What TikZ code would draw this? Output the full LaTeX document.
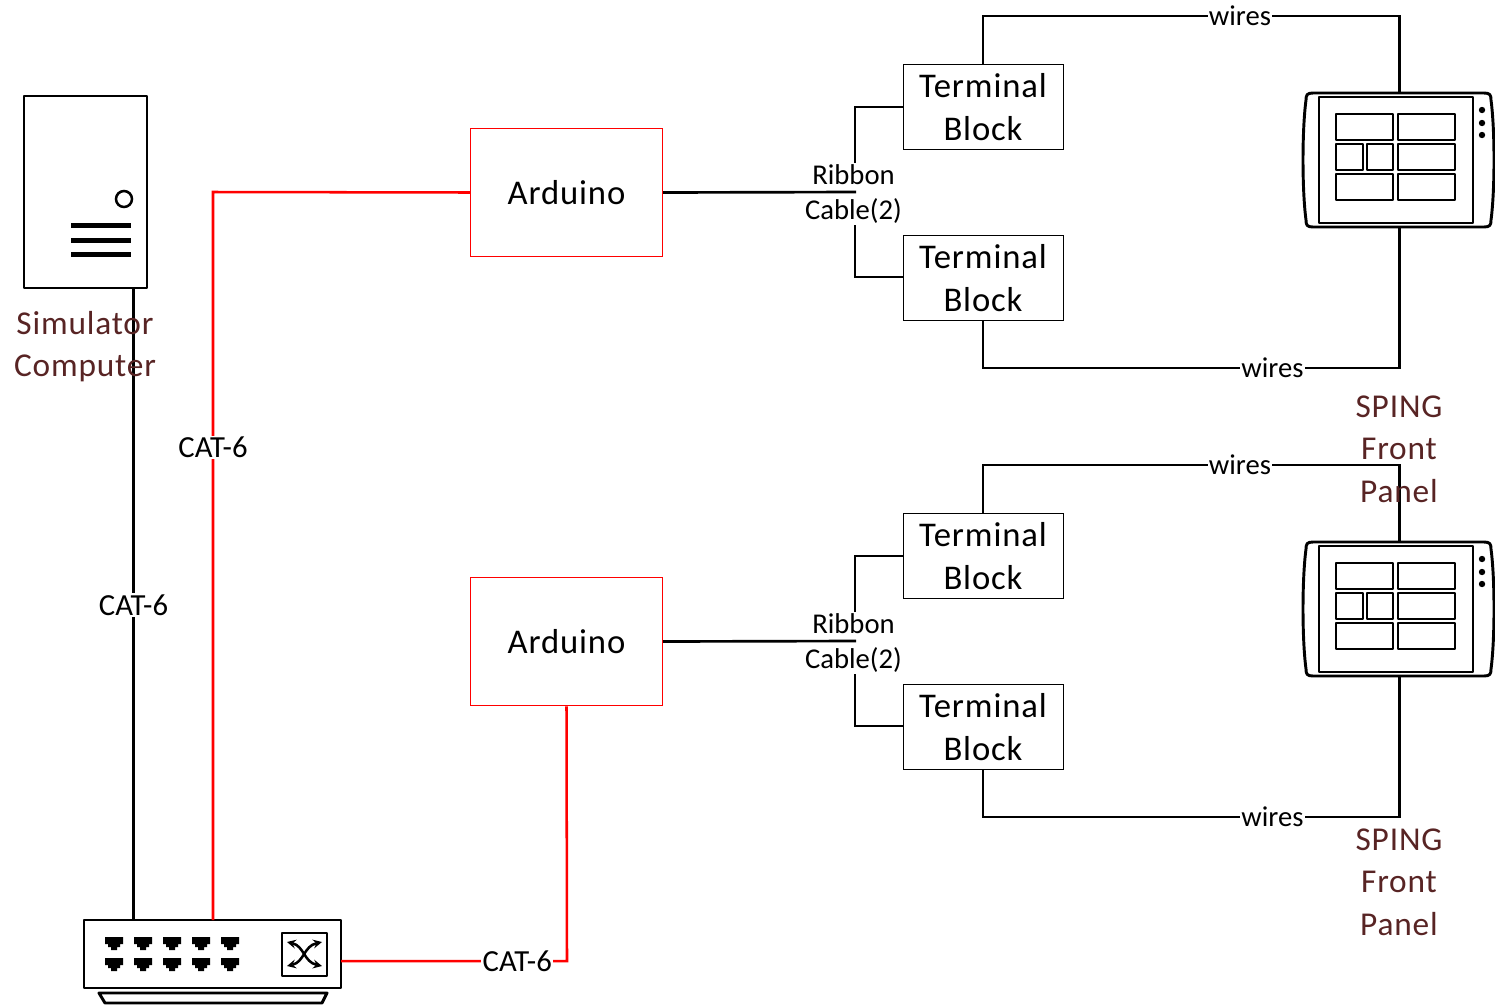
\documentclass[tikz,border=0pt]{standalone}
\usepackage{fontspec}
\setmainfont{Carlito}
\newfontfamily\spacedfont[LetterSpace=2.5]{Carlito}
\usepackage{xcolor}
\definecolor{labelbrown}{HTML}{582424}
\tikzset{
  ardbox/.style={draw=red,line width=0.75pt,fill=white,minimum width=144pt,minimum height=96.5pt,inner sep=0pt,font=\spacedfont\fontsize{26}{32}\selectfont},
  tbbox/.style={draw=black,line width=0.6pt,fill=white,minimum width=120pt,minimum height=64pt,inner sep=0pt,align=center,font=\spacedfont\fontsize{26}{32}\selectfont},
  wire/.style={line width=2pt,line join=miter},
  redwire/.style={line width=1.9pt,red},
  cablelabel/.style={fill=white,inner sep=1pt,align=center,text=black,font=\fontsize{21.5}{26}\selectfont},
  catlabel/.style={cablelabel,font=\fontsize{23}{26}\selectfont},
  devlabel/.style={text=labelbrown,align=center,inner sep=0pt,font=\spacedfont\fontsize{25}{32}\selectfont},
  devline/.style={line width=2.2pt,line join=round},
}
\begin{document}
\begin{tikzpicture}[x=0.75pt,y=-0.75pt]
\useasboundingbox (0,0) rectangle (1495,1004);
% simulator computer
\node[draw,devline,minimum width=92.25pt,minimum height=144pt,inner sep=0pt] (sim) at (85.5,192) {};
\draw[line width=1.9pt] (124,199) circle (8);
\fill (71,222.5) rectangle (131,227.5);
\fill (71,237.5) rectangle (131,242.5);
\fill (71,251.5) rectangle (131,256.5);
% switch
\node[draw,devline,minimum width=192.75pt,minimum height=51pt,inner sep=0pt] (switch) at (212.5,954) {};
\foreach \px in {105,134,163,192,221} {
  \foreach \py in {937,958} {
    \fill (\px,\py) -- ++(18,0) -- ++(0,7) -- ++(-3,0) -- ++(0,3) -- ++(-3,0) -- ++(0,3) -- ++(-6,0) -- ++(0,-3) -- ++(-3,0) -- ++(0,-3) -- ++(-3,0) -- cycle;
  }
}
\draw[devline] (282,933) rectangle (327,976);
\draw[line width=1.9pt,<->,>=stealth] (287,942) .. controls (304,946) and (304,962) .. (322,966);
\draw[line width=1.9pt,<->,>=stealth] (287,966) .. controls (304,962) and (304,946) .. (322,942);
\draw[devline] (105,1003) -- (99,993) -- (327,993) -- (322,1003) -- cycle;
% coordinates for the cables
\coordinate (simout) at (133.5,288);
\coordinate (swblack) at (133.5,920);
\coordinate (swred) at (213,920);
\coordinate (sweast) at (341,961);
\node[ardbox] (ardA) at (566.5,192.5) {Arduino};
\node[ardbox] (ardB) at (566.5,641.5) {Arduino};
\coordinate (ardBturn) at (567,961);
\coordinate (ardAturn) at (213,192);
\draw[wire] (simout) -- node[catlabel,pos=0.5015] (catA) {CAT-6} (swblack);
\draw[redwire] (swred) -- node[catlabel,pos=0.649] (catB) {CAT-6} (ardAturn) -- (ardA.west);
\draw[redwire] (sweast) -- node[catlabel,pos=0.78] (catC) {CAT-6} (ardBturn) -- (ardB.south);
% the two front panels, 449 apart
\foreach \n/\dy in {A/0,B/449} {
  \begin{scope}[yshift=-\dy*0.75pt]
  \node[tbbox] (tb\n1) at (983,107) {Terminal\\Block};
  \node[tbbox] (tb\n2) at (983,278) {Terminal\\Block};
  \coordinate (panel\n top) at (1399.5,93);
  \coordinate (panel\n bot) at (1399.5,227);
  \coordinate (rib\n) at (856,192);
  \coordinate (up\n) at (983,16);
  \coordinate (upr\n) at (1399.5,16);
  \coordinate (low\n) at (983,368);
  \coordinate (lowr\n) at (1399.5,368);
  \coordinate (ribtop\n) at (855,107);
  \coordinate (ribbot\n) at (855,277);
  \draw[wire] (tb\n1.west |- ribtop\n) -- (ribtop\n) -- (ribbot\n) -- (tb\n2.west |- ribbot\n);
  \draw[wire] (tb\n1.north) -- (up\n) -- node[cablelabel,pos=0.617] (wires\n1) {wires} (upr\n) -- (panel\n top);
  \draw[wire] (tb\n2.south) -- (low\n) -- node[cablelabel,pos=0.695] (wires\n2) {wires} (lowr\n) -- (panel\n bot);
  \node[cablelabel,inner xsep=4pt,inner ysep=1pt] (ribbon\n) at (853.5,194) {Ribbon\\Cable(2)};
  \draw[wire] (ard\n.east) -- (rib\n);
  % panel
  \draw[devline,fill=white] (1313,93) -- (1484,93) .. controls (1490,93) and (1491,95) .. (1491,100) .. controls (1495,130) and (1495,190) .. (1491,220) .. controls (1491,225) and (1490,227) .. (1484,227) -- (1313,227) .. controls (1307,227) and (1306,225) .. (1306,220) .. controls (1302,190) and (1302,130) .. (1306,100) .. controls (1306,95) and (1307,93) .. (1313,93) -- cycle;
  \draw[devline] (1319,97) rectangle (1473,223);
  \draw[devline] (1336,114) rectangle (1393,140);
  \draw[devline] (1398,114) rectangle (1455,140);
  \draw[devline] (1336,144) rectangle (1363,170);
  \draw[devline] (1367,144) rectangle (1393,170);
  \draw[devline] (1398,144) rectangle (1455,170);
  \draw[devline] (1336,174) rectangle (1393,200);
  \draw[devline] (1398,174) rectangle (1455,200);
  \fill (1482,110) circle (3.2);
  \fill (1482,123) circle (3.2);
  \fill (1482,135) circle (3.2);
  \end{scope}
}
\node[devlabel] (simlabel) at (85,346.5) {Simulator\\Computer};
\node[devlabel] (spingA) at (1399,449) {SPING\\Front\\Panel};
\node[devlabel] (spingB) at (1399,882) {SPING\\Front\\Panel};
\end{tikzpicture}
\end{document}
